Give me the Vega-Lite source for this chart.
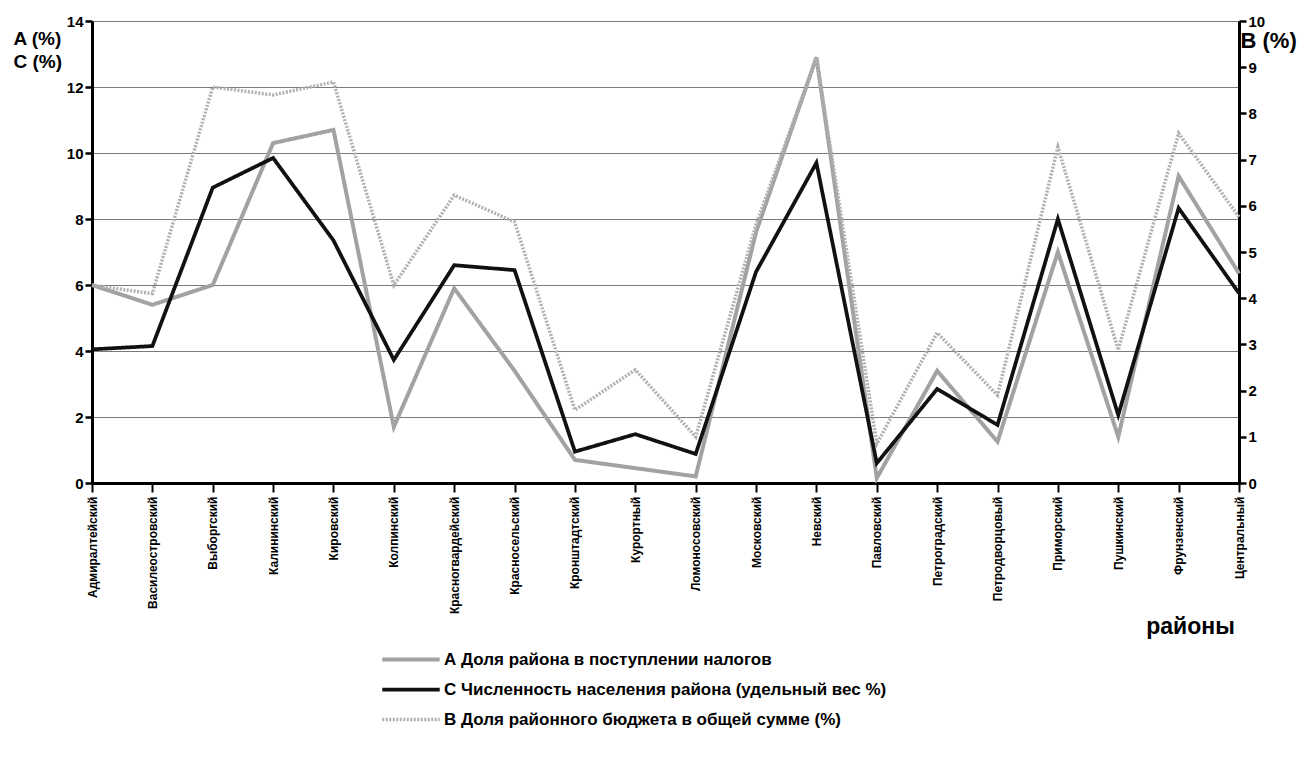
{
  "$schema": "https://vega.github.io/schema/vega-lite/v6.json",
  "width": 1147,
  "height": 462,
  "autosize": {"type": "none"},
  "padding": {"left": 92, "top": 21, "right": 77, "bottom": 292},
  "background": "white",
  "config": {
    "font": "Liberation Sans",
    "view": {"stroke": null},
    "axis": {"labelFont": "Liberation Sans", "titleFont": "Liberation Sans", "labelColor": "black", "titleColor": "black"}
  },
  "datasets": {
    "d": [
      {"district": "Адмиралтейский", "series": "A", "value": 6.0},
      {"district": "Василеостровский", "series": "A", "value": 5.4},
      {"district": "Выборгский", "series": "A", "value": 6.0},
      {"district": "Калининский", "series": "A", "value": 10.3},
      {"district": "Кировский", "series": "A", "value": 10.7},
      {"district": "Колпинский", "series": "A", "value": 1.7},
      {"district": "Красногвардейский", "series": "A", "value": 5.9},
      {"district": "Красносельский", "series": "A", "value": 3.4},
      {"district": "Кронштадтский", "series": "A", "value": 0.7},
      {"district": "Курортный", "series": "A", "value": 0.45},
      {"district": "Ломоносовский", "series": "A", "value": 0.2},
      {"district": "Московский", "series": "A", "value": 7.6},
      {"district": "Невский", "series": "A", "value": 12.9},
      {"district": "Павловский", "series": "A", "value": 0.15},
      {"district": "Петроградский", "series": "A", "value": 3.4},
      {"district": "Петродворцовый", "series": "A", "value": 1.25},
      {"district": "Приморский", "series": "A", "value": 7.0},
      {"district": "Пушкинский", "series": "A", "value": 1.4},
      {"district": "Фрунзенский", "series": "A", "value": 9.3},
      {"district": "Центральный", "series": "A", "value": 6.35},
      {"district": "Адмиралтейский", "series": "C", "value": 4.05},
      {"district": "Василеостровский", "series": "C", "value": 4.15},
      {"district": "Выборгский", "series": "C", "value": 8.95},
      {"district": "Калининский", "series": "C", "value": 9.85},
      {"district": "Кировский", "series": "C", "value": 7.35},
      {"district": "Колпинский", "series": "C", "value": 3.73},
      {"district": "Красногвардейский", "series": "C", "value": 6.6},
      {"district": "Красносельский", "series": "C", "value": 6.45},
      {"district": "Кронштадтский", "series": "C", "value": 0.95},
      {"district": "Курортный", "series": "C", "value": 1.48},
      {"district": "Ломоносовский", "series": "C", "value": 0.88},
      {"district": "Московский", "series": "C", "value": 6.4},
      {"district": "Невский", "series": "C", "value": 9.7},
      {"district": "Павловский", "series": "C", "value": 0.6},
      {"district": "Петроградский", "series": "C", "value": 2.85},
      {"district": "Петродворцовый", "series": "C", "value": 1.76},
      {"district": "Приморский", "series": "C", "value": 8.0},
      {"district": "Пушкинский", "series": "C", "value": 2.06},
      {"district": "Фрунзенский", "series": "C", "value": 8.33},
      {"district": "Центральный", "series": "C", "value": 5.75},
      {"district": "Адмиралтейский", "series": "B", "value": 4.28},
      {"district": "Василеостровский", "series": "B", "value": 4.1},
      {"district": "Выборгский", "series": "B", "value": 8.57},
      {"district": "Калининский", "series": "B", "value": 8.4},
      {"district": "Кировский", "series": "B", "value": 8.68},
      {"district": "Колпинский", "series": "B", "value": 4.28},
      {"district": "Красногвардейский", "series": "B", "value": 6.23},
      {"district": "Красносельский", "series": "B", "value": 5.65},
      {"district": "Кронштадтский", "series": "B", "value": 1.58},
      {"district": "Курортный", "series": "B", "value": 2.45},
      {"district": "Ломоносовский", "series": "B", "value": 1.0},
      {"district": "Московский", "series": "B", "value": 5.6},
      {"district": "Невский", "series": "B", "value": 9.2},
      {"district": "Павловский", "series": "B", "value": 0.85},
      {"district": "Петроградский", "series": "B", "value": 3.25},
      {"district": "Петродворцовый", "series": "B", "value": 1.9},
      {"district": "Приморский", "series": "B", "value": 7.27},
      {"district": "Пушкинский", "series": "B", "value": 2.88},
      {"district": "Фрунзенский", "series": "B", "value": 7.57},
      {"district": "Центральный", "series": "B", "value": 5.76}
    ]
  },
  "data": {"name": "d"},
  "encoding": {
    "x": {
      "field": "district", "type": "ordinal", "sort": null,
      "scale": {"type": "point", "padding": 0},
      "axis": {
        "title": "районы",
        "titleFontSize": 23, "titleFontWeight": "bold",
        "titleX": 1098, "titleY": 150, "titleBaseline": "alphabetic", "titleAlign": "center",
        "labelAngle": -90, "labelFontSize": 12, "labelFontWeight": "bold", "labelPadding": 4,
        "domainColor": "black", "domainWidth": 3,
        "tickColor": "black", "tickWidth": 2, "tickSize": 9,
        "grid": false
      }
    },
    "color": {
      "field": "series", "type": "nominal",
      "scale": {"domain": ["A", "C", "B"], "range": ["#a2a2a2", "#111111", "#b0b0b0"]},
      "legend": {
        "title": null, "orient": "none", "legendX": 288, "legendY": 628,
        "direction": "vertical",
        "labelExpr": "datum.value === 'A' ? 'А  Доля района в поступлении налогов' : datum.value === 'C' ? 'С  Численность населения района (удельный вес %)' : 'В Доля районного бюджета в общей сумме (%)'",
        "symbolType": "stroke", "symbolSize": 3300,
        "clipHeight": 21, "rowPadding": 9, "labelOffset": 2,
        "labelFontSize": 17, "labelFontWeight": "bold", "labelColor": "black",
        "labelFont": "Liberation Sans", "labelLimit": 700
      }
    },
    "strokeWidth": {
      "field": "series", "type": "nominal",
      "scale": {"domain": ["A", "C", "B"], "range": [4, 3.5, 0.9]},
      "legend": null
    },
    "strokeDash": {
      "field": "series", "type": "nominal",
      "scale": {"domain": ["A", "C", "B"], "range": [[1, 0], [1, 0], [2, 1.5]]},
      "legend": null
    }
  },
  "layer": [
    {
      "transform": [{"filter": "datum.series !== 'B'"}],
      "mark": {"type": "line", "strokeJoin": "miter"},
      "encoding": {
        "y": {
          "field": "value", "type": "quantitative",
          "scale": {"domain": [0, 14], "nice": false},
          "axis": {
            "values": [0, 2, 4, 6, 8, 10, 12, 14],
            "title": ["A (%)", "C (%)"],
            "titleAngle": 0, "titleAlign": "left", "titleBaseline": "top",
            "titleX": -79, "titleY": 8, "titleFontSize": 19, "titleFontWeight": "bold", "titleLineHeight": 23,
            "labelFontSize": 15, "labelFontWeight": "bold", "labelPadding": 2,
            "domainColor": "black", "domainWidth": 3,
            "tickColor": "black", "tickWidth": 2.5, "tickSize": 7,
            "grid": true, "gridColor": "#7a7a7a", "gridWidth": 1
          }
        }
      }
    },
    {
      "transform": [{"filter": "datum.series === 'B'"}],
      "mark": {"type": "line", "strokeJoin": "miter"},
      "encoding": {
        "y": {
          "field": "value", "type": "quantitative",
          "scale": {"domain": [0, 10], "nice": false},
          "axis": {
            "orient": "right",
            "values": [0, 1, 2, 3, 4, 5, 6, 7, 8, 9, 10],
            "title": "B (%)",
            "titleAngle": 0, "titleAlign": "left", "titleBaseline": "top",
            "titleX": 1, "titleY": 9, "titleFontSize": 22, "titleFontWeight": "bold",
            "labelFontSize": 15, "labelFontWeight": "bold", "labelPadding": 2,
            "domainColor": "black", "domainWidth": 3,
            "tickColor": "black", "tickWidth": 2.5, "tickSize": 7,
            "grid": false
          }
        }
      }
    }
  ],
  "resolve": {"scale": {"y": "independent"}}
}
